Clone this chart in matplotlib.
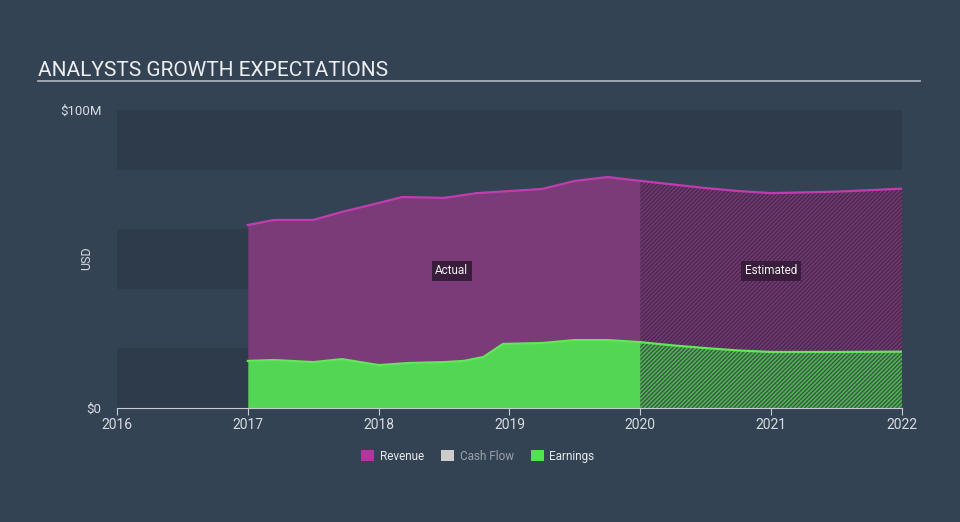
import numpy as np
import matplotlib.pyplot as plt
from matplotlib.patches import Rectangle
from matplotlib.lines import Line2D

plt.rcParams['font.family'] = ['Roboto', 'DejaVu Sans']
plt.rcParams['hatch.linewidth'] = 0.9

# Data (USD millions)
rev_years = [2017.0, 2017.2, 2017.5, 2017.72, 2018.0, 2018.18, 2018.5, 2018.75,
             2019.0, 2019.25, 2019.5, 2019.75, 2020.0]
rev_vals = [61.4, 63.1, 63.1, 65.8, 68.8, 70.8, 70.5, 72.1,
            72.8, 73.5, 76.2, 77.5, 76.2]
rev_est_years = [2020.0, 2020.25, 2020.5, 2020.75, 2021.0, 2021.5, 2022.0]
rev_est_vals = [76.2, 75.0, 73.8, 72.8, 72.1, 72.6, 73.6]

earn_years = [2017.0, 2017.2, 2017.5, 2017.72, 2018.0, 2018.23, 2018.5, 2018.65,
              2018.8, 2018.95, 2019.25, 2019.5, 2019.75, 2020.0]
earn_vals = [15.8, 16.1, 15.4, 16.4, 14.4, 15.1, 15.4, 15.8,
             17.1, 21.5, 21.8, 22.8, 22.8, 22.1]
earn_est_years = [2020.0, 2020.25, 2020.5, 2020.75, 2021.0, 2021.5, 2022.0]
earn_est_vals = [22.1, 21.0, 20.1, 19.3, 18.8, 18.8, 18.9]

year_ticks = [2016, 2017, 2018, 2019, 2020, 2021, 2022]

bg = '#334354'
band = '#2e3b4a'
rev_fill = '#7b3a78'
rev_line = '#c03db0'
earn_fill = '#53d654'
earn_line = '#62e65a'
txt = '#d8dce0'

fig = plt.figure(figsize=(9.6, 5.22), dpi=100, facecolor=bg)
ax = fig.add_axes([117 / 960, 114 / 522, 785 / 960, 298 / 522])
ax.set_facecolor(bg)
ax.set_xlim(2016, 2022)
ax.set_ylim(0, 100)

for lo in (0, 40, 80):
    ax.axhspan(lo, lo + 20, color=band, lw=0, zorder=0)

# actual
ax.fill_between(rev_years, rev_vals, 0, color=rev_fill, lw=0, zorder=2)
ax.plot(rev_years, rev_vals, color=rev_line, lw=1.6, zorder=4)
ax.fill_between(earn_years, earn_vals, 0, color=earn_fill, lw=0, zorder=3)
ax.plot(earn_years, earn_vals, color=earn_line, lw=1.6, zorder=4)

# estimated (hatched)
ax.fill_between(rev_est_years, rev_est_vals, 0, facecolor='#73386f',
                edgecolor='#44294e', hatch='////////', lw=0, zorder=2)
ax.plot(rev_est_years, rev_est_vals, color=rev_line, lw=1.6, zorder=4)
ax.fill_between(earn_est_years, earn_est_vals, 0, facecolor='#4db24f',
                edgecolor='#3a5148', hatch='////////', lw=0, zorder=3)
ax.plot(earn_est_years, earn_est_vals, color=earn_line, lw=1.6, zorder=4)

for x, label in ((2018.56, 'Actual'), (2021.0, 'Estimated')):
    ax.text(x, 46, label, color='#f0f0f0', fontsize=8.5, ha='center', va='center',
            zorder=6, bbox=dict(boxstyle='square,pad=0.3', fc='#3a1c3b', ec='none'))

for s in ('top', 'right', 'left'):
    ax.spines[s].set_visible(False)
ax.spines['bottom'].set_color('#c8ccd2')
ax.spines['bottom'].set_zorder(5)
ax.set_xticks(year_ticks)
ax.set_xticklabels([str(y) for y in year_ticks])
ax.tick_params(axis='x', colors='#c8ccd2', labelcolor=txt, labelsize=10,
               length=5, direction='out', pad=2)
ax.set_yticks([0, 100])
ax.set_yticklabels(['$0', '$100M'])
ax.tick_params(axis='y', length=0, labelcolor=txt, labelsize=9.5, pad=11)
fig.text(87 / 960, 1 - 258 / 522, 'USD', color=txt, fontsize=9, rotation=90,
         ha='center', va='center')

# title and rule
fig.text(38 / 960, 1 - 70 / 522, 'ANALYSTS GROWTH EXPECTATIONS', color='#eceef0',
         fontsize=15, ha='left', va='center')
fig.add_artist(Line2D([38 / 960, 920 / 960], [1 - 81 / 522, 1 - 81 / 522],
                      color='#a8aeb6', lw=1.3))

# legend
handles = [Rectangle((0, 0), 1, 1, fc='#b0379f'),
           Rectangle((0, 0), 1, 1, fc='#cccccc'),
           Rectangle((0, 0), 1, 1, fc='#51e24f')]
leg = fig.legend(handles, ['Revenue', 'Cash Flow', 'Earnings'], loc='center',
                 bbox_to_anchor=(478 / 960, 1 - 456 / 522), ncol=3, frameon=False,
                 fontsize=8.5, handlelength=1.1, handleheight=1.1,
                 handletextpad=0.5, columnspacing=1.4)
for t, c in zip(leg.get_texts(), ['#e6e8ea', '#9aa2ab', '#e6e8ea']):
    t.set_color(c)

fig.savefig('out.png', dpi=100, facecolor=bg)
